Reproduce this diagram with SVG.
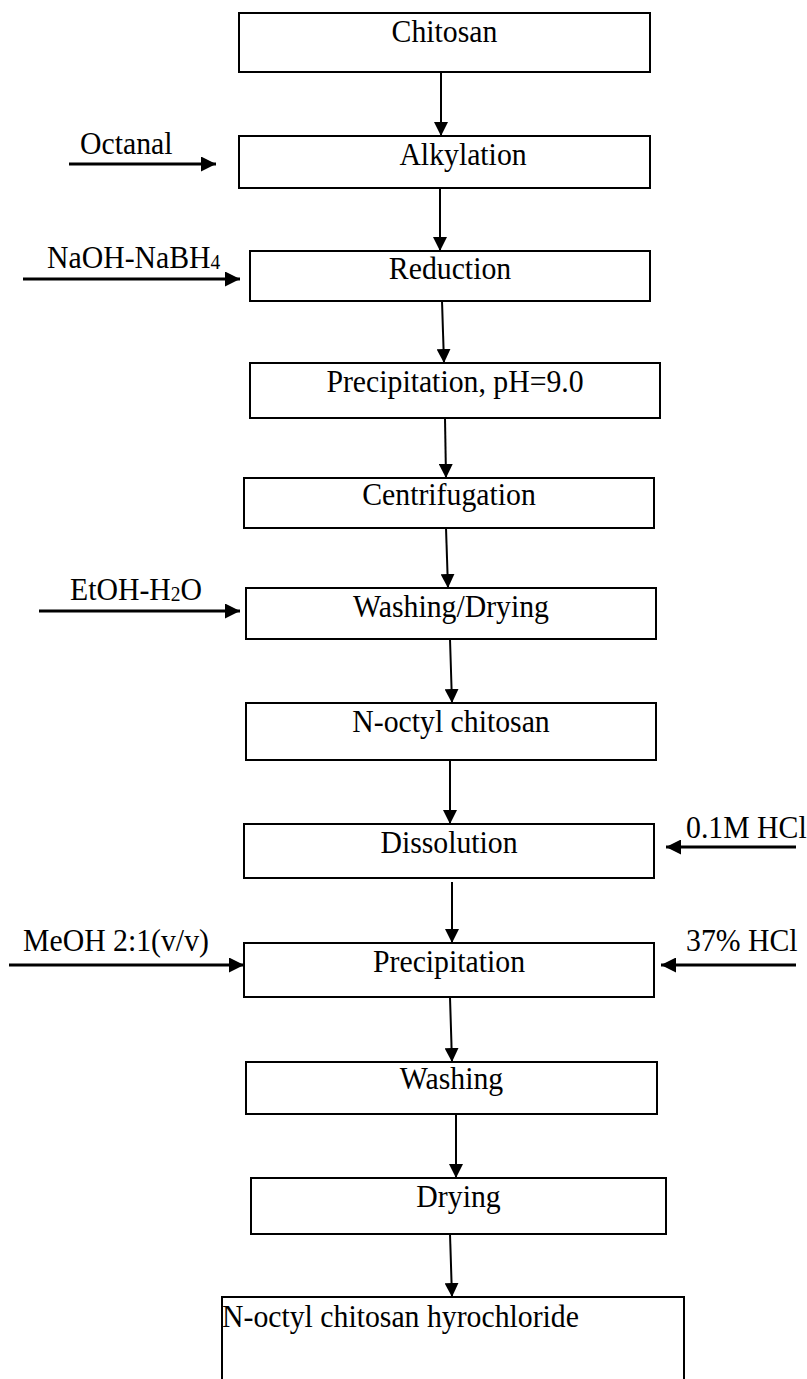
<svg xmlns="http://www.w3.org/2000/svg" width="807" height="1379" viewBox="0 0 807 1379">
<defs>
<style>
.box{fill:#fff;stroke:#000;stroke-width:2}
.t{font-family:"Liberation Serif","Times New Roman",serif;font-size:32px;fill:#000}
.c{text-anchor:middle}
.sub{font-size:21px}
.flow{stroke:#000;stroke-width:2;fill:none}
.side{stroke:#000;stroke-width:3;fill:none}
</style>
<marker id="ah" markerUnits="userSpaceOnUse" viewBox="0 0 14 14" refX="14" refY="7" markerWidth="14" markerHeight="14" orient="auto"><path d="M0,0 L14,7 L0,14 Z" fill="#000"/></marker>
<marker id="ah2" markerUnits="userSpaceOnUse" viewBox="0 0 15 15" refX="15" refY="7.5" markerWidth="15" markerHeight="15" orient="auto"><path d="M0,0 L15,7.5 L0,15 Z" fill="#000"/></marker>
</defs>
<rect width="807" height="1379" fill="#fff"/>
<g id="connectors">
<line class="flow" x1="441" y1="72" x2="441" y2="136" marker-end="url(#ah)"/>
<line class="flow" x1="440" y1="188" x2="440" y2="251" marker-end="url(#ah)"/>
<line class="flow" x1="442" y1="301" x2="444" y2="363" marker-end="url(#ah)"/>
<line class="flow" x1="445" y1="418" x2="446" y2="478" marker-end="url(#ah)"/>
<line class="flow" x1="446" y1="528" x2="448" y2="588" marker-end="url(#ah)"/>
<line class="flow" x1="450" y1="639" x2="452" y2="703" marker-end="url(#ah)"/>
<line class="flow" x1="450" y1="760" x2="450" y2="824" marker-end="url(#ah)"/>
<line class="flow" x1="452" y1="882" x2="452" y2="943" marker-end="url(#ah)"/>
<line class="flow" x1="450" y1="997" x2="452" y2="1062" marker-end="url(#ah)"/>
<line class="flow" x1="456" y1="1114" x2="456" y2="1178" marker-end="url(#ah)"/>
<line class="flow" x1="450" y1="1234" x2="452" y2="1297" marker-end="url(#ah)"/>
<line class="side" x1="69" y1="164" x2="216" y2="164" marker-end="url(#ah2)"/>
<line class="side" x1="23" y1="279" x2="240" y2="279" marker-end="url(#ah2)"/>
<line class="side" x1="39" y1="611" x2="240" y2="611" marker-end="url(#ah2)"/>
<line class="side" x1="796" y1="847" x2="666" y2="847" marker-end="url(#ah2)"/>
<line class="side" x1="9" y1="965" x2="244" y2="965" marker-end="url(#ah2)"/>
<line class="side" x1="796" y1="965" x2="661" y2="965" marker-end="url(#ah2)"/>
</g>
<g id="n-chitosan"><rect class="box" x="239" y="13" width="411" height="59"/><text class="t c" transform="translate(444.5 42) scale(0.93 1)">Chitosan</text></g>
<g id="n-alkylation"><rect class="box" x="239" y="136" width="411" height="52"/><text class="t c" transform="translate(463 165) scale(0.93 1)">Alkylation</text></g>
<g id="l-octanal"><text class="t" transform="translate(80 154) scale(0.93 1)">Octanal</text></g>
<g id="n-reduction"><rect class="box" x="250" y="251" width="400" height="50"/><text class="t c" transform="translate(450 279) scale(0.93 1)">Reduction</text></g>
<g id="l-naoh"><text class="t" transform="translate(47 268) scale(0.93 1)">NaOH-NaBH<tspan class="sub" dy="1">4</tspan></text></g>
<g id="n-precip-ph"><rect class="box" x="250" y="363" width="410" height="55"/><text class="t c" transform="translate(455 392) scale(0.93 1)">Precipitation, pH=9.0</text></g>
<g id="n-centrifugation"><rect class="box" x="244" y="478" width="410" height="50"/><text class="t c" transform="translate(449 505) scale(0.93 1)">Centrifugation</text></g>
<g id="n-washdry"><rect class="box" x="246" y="588" width="410" height="51"/><text class="t c" transform="translate(451 617) scale(0.93 1)">Washing/Drying</text></g>
<g id="l-etoh"><text class="t" transform="translate(70 600) scale(0.93 1)">EtOH-H<tspan class="sub" dy="1">2</tspan><tspan dy="-1">O</tspan></text></g>
<g id="n-noctyl"><rect class="box" x="246" y="703" width="410" height="57"/><text class="t c" transform="translate(451 732) scale(0.93 1)">N-octyl chitosan</text></g>
<g id="n-dissolution"><rect class="box" x="244" y="824" width="410" height="54"/><text class="t c" transform="translate(449 853) scale(0.93 1)">Dissolution</text></g>
<g id="l-hcl01"><text class="t" transform="translate(686 838) scale(0.93 1)">0.1M HCl</text></g>
<g id="n-precip"><rect class="box" x="244" y="943" width="410" height="54"/><text class="t c" transform="translate(449 972) scale(0.93 1)">Precipitation</text></g>
<g id="l-meoh"><text class="t" transform="translate(23 951) scale(0.93 1)">MeOH 2:1(v/v)</text></g>
<g id="l-hcl37"><text class="t" transform="translate(686 951) scale(0.93 1)">37% HCl</text></g>
<g id="n-washing"><rect class="box" x="246" y="1062" width="411" height="52"/><text class="t c" transform="translate(451.5 1089) scale(0.93 1)">Washing</text></g>
<g id="n-drying"><rect class="box" x="251" y="1178" width="415" height="56"/><text class="t c" transform="translate(458.5 1207) scale(0.93 1)">Drying</text></g>
<g id="n-final"><path class="box" d="M222,1380 V1297 H684 V1380"/><text class="t" transform="translate(222 1327) scale(0.93 1)">N-octyl chitosan hyrochloride</text></g>
</svg>
